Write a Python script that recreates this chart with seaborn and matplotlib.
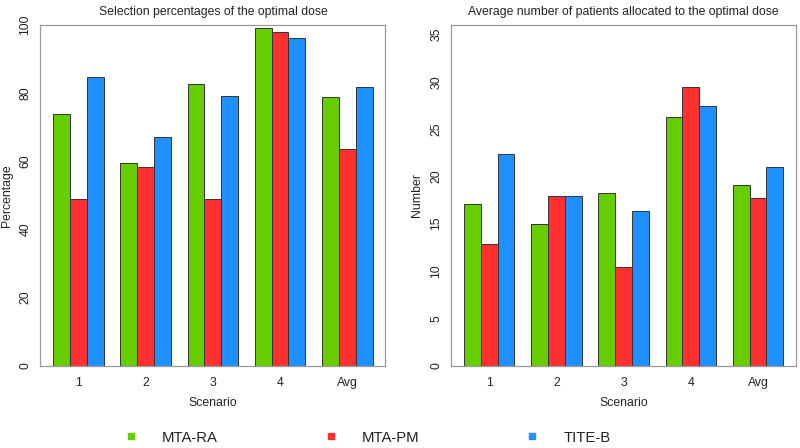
import matplotlib
matplotlib.use('Agg')
import matplotlib.pyplot as plt
import pandas as pd
import seaborn as sns
from matplotlib.lines import Line2D

# Data
scenarios = ['1', '2', '3', '4', 'Avg']
methods = ['MTA-RA', 'MTA-PM', 'TITE-B']
colors = ['#66CD00', '#FF3030', '#1E90FF']

pct_mta_ra = [74.0, 59.5, 82.7, 99.0, 78.8]
pct_mta_pm = [49.0, 58.3, 49.0, 98.1, 63.7]
pct_tite_b = [84.9, 67.0, 79.3, 96.1, 81.8]

num_mta_ra = [17.1, 15.0, 18.2, 26.3, 19.1]
num_mta_pm = [12.9, 17.9, 10.4, 29.5, 17.7]
num_tite_b = [22.4, 17.9, 16.3, 27.4, 21.0]


def long_form(a, b, c):
    rows = []
    for vals, m in zip([a, b, c], methods):
        for s, v in zip(scenarios, vals):
            rows.append({'Scenario': s, 'Method': m, 'value': v})
    return pd.DataFrame(rows)


df_pct = long_form(pct_mta_ra, pct_mta_pm, pct_tite_b)
df_num = long_form(num_mta_ra, num_mta_pm, num_tite_b)

sns.set_style('white')
plt.rcParams['font.family'] = ['Liberation Sans', 'DejaVu Sans']
text_col = '#222222'
box_col = '#999999'

fig = plt.figure(figsize=(8, 4.48), dpi=100)
ax1 = fig.add_axes([0.0506, 0.184, 0.431, 0.760])
ax2 = fig.add_axes([0.564, 0.184, 0.431, 0.760])


def draw_panel(ax, data, title, ylabel, ymax, yticks):
    sns.barplot(data=data, x='Scenario', y='value', hue='Method',
                order=scenarios, hue_order=methods, palette=colors,
                width=0.75, gap=0, edgecolor='#333333', linewidth=0.7,
                saturation=1, legend=False, ax=ax)
    ax.set_xlim(-0.565, 4.565)
    ax.set_ylim(0, ymax)
    ax.set_yticks(yticks)
    ax.set_yticklabels([str(t) for t in yticks], rotation=90, va='center')
    ax.set_title(title, fontsize=8.8, color=text_col, pad=7)
    ax.set_xlabel('Scenario', fontsize=8.8, color=text_col, labelpad=6)
    ax.set_ylabel(ylabel, fontsize=8.8, color=text_col, labelpad=5)
    ax.tick_params(axis='y', length=3.5, width=0.8, color=box_col,
                   labelsize=8.8, labelcolor=text_col, pad=3)
    ax.tick_params(axis='x', length=0, labelsize=8.8, labelcolor=text_col, pad=8)
    for sp in ax.spines.values():
        sp.set_visible(True)
        sp.set_color(box_col)
        sp.set_linewidth(0.9)


draw_panel(ax1, df_pct, 'Selection percentages of the optimal dose',
           'Percentage', 100, [0, 20, 40, 60, 80, 100])
draw_panel(ax2, df_num, 'Average number of patients allocated to the optimal dose',
           'Number', 36, [0, 5, 10, 15, 20, 25, 30, 35])

handles = [Line2D([], [], marker='s', linestyle='none', markersize=5,
                  markerfacecolor=c, markeredgecolor=c) for c in colors]
fig.legend(handles, methods, loc='center', bbox_to_anchor=(0.454, 0.023),
           ncol=3, frameon=False, fontsize=10.7, handletextpad=1.1,
           columnspacing=6.6, labelcolor=text_col)

fig.savefig('out.png', dpi=100)
